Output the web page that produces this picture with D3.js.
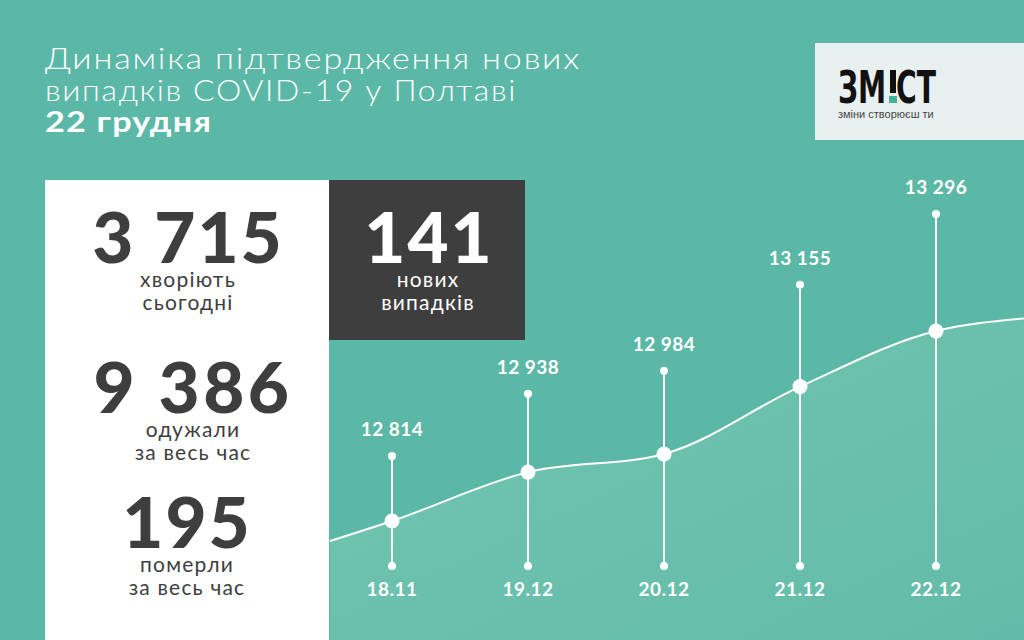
<!DOCTYPE html>
<html>
<head>
<meta charset="utf-8">
<script src="https://cdn.jsdelivr.net/npm/d3@7"></script>
<style>
html,body{margin:0;padding:0;background:#5cb8a6;}
svg{display:block;}
</style>
</head>
<body>
<div id="chart"></div>
<script>
// ---- data ----
const dates = ["18.11", "19.12", "20.12", "21.12", "22.12"];
const totalCases = [12814, 12938, 12984, 13155, 13296];
const titleLines = ["Динаміка підтвердження нових", "випадків COVID-19 у Полтаві"];
const titleDate = "22 грудня";
const statValues = ["3 715", "9 386", "195"];
const statLabels = [["хворіють", "сьогодні"], ["одужали", "за весь час"], ["померли", "за весь час"]];
const newCases = "141";
const newCasesLabel = ["нових", "випадків"];

const W = 1024, H = 640;
const bg = "#5cb8a6", dark = "#3e3e3e";
const fmt = v => d3.format(",")(v).replace(/,/g, " ");
const FONT = "Lato, 'Open Sans', sans-serif";

const svg = d3.select("#chart").append("svg").attr("width", W).attr("height", H);
const defs = svg.append("defs");
const grad = defs.append("linearGradient").attr("id", "areaGrad")
  .attr("x1", "0").attr("y1", "0").attr("x2", "1").attr("y2", "1");
grad.append("stop").attr("offset", "0").attr("stop-color", "#74c6b2");
grad.append("stop").attr("offset", "1").attr("stop-color", "#62bba8");

svg.append("rect").attr("width", W).attr("height", H).attr("fill", bg);

// ---- scales ----
const x = d3.scalePoint().domain(dates).range([392, 936]);
const yStem = d3.scaleLinear().domain([12814, 13296]).range([456, 214]);
const yLine = d3.scaleLinear().domain([12814, 13296]).range([521, 331]);
const baseY = 566;

const pts = dates.map((d, i) => ({ x: x(d), y: yLine(totalCases[i]) }));
// extend curve to panel edge and right border
const left = { x: 330, y: pts[0].y + (pts[0].y - pts[1].y) / (pts[1].x - pts[0].x) * (pts[0].x - 330) * 0.9 };
const right = { x: W, y: pts[4].y - (pts[3].y - pts[4].y) / (pts[4].x - pts[3].x) * (W - pts[4].x) * 0.35 };
const curvePts = [left, ...pts, right];

const area = d3.area().x(d => d.x).y0(H).y1(d => d.y).curve(d3.curveMonotoneX);
const line = d3.line().x(d => d.x).y(d => d.y).curve(d3.curveMonotoneX);

svg.append("path").datum(curvePts).attr("d", area).attr("fill", "url(#areaGrad)");
svg.append("path").datum(curvePts).attr("d", line).attr("fill", "none")
  .attr("stroke", "#fff").attr("stroke-width", 2);

// stems
const g = svg.append("g");
const items = dates.map((d, i) => ({ d, v: totalCases[i] }));
g.selectAll("line.stem").data(items).join("line")
  .attr("x1", d => x(d.d)).attr("x2", d => x(d.d))
  .attr("y1", d => yStem(d.v)).attr("y2", baseY)
  .attr("stroke", "#fff").attr("stroke-width", 2);
g.selectAll("circle.top").data(items).join("circle")
  .attr("cx", d => x(d.d)).attr("cy", d => yStem(d.v)).attr("r", 4).attr("fill", "#fff");
g.selectAll("circle.bot").data(items).join("circle").attr("class", "bot")
  .attr("cx", d => x(d.d)).attr("cy", baseY).attr("r", 4).attr("fill", "#fff");
g.selectAll("circle.mid").data(items).join("circle").attr("class", "mid")
  .attr("cx", d => x(d.d)).attr("cy", d => yLine(d.v)).attr("r", 7.5).attr("fill", "#fff");
g.selectAll("text.val").data(items).join("text")
  .attr("x", d => x(d.d)).attr("y", d => yStem(d.v) - 20)
  .attr("text-anchor", "middle").attr("fill", "#fff")
  .attr("font-family", FONT).attr("font-weight", 700).attr("font-size", 19)
  .attr("letter-spacing", 0.5)
  .text(d => fmt(d.v));
g.selectAll("text.date").data(items).join("text")
  .attr("x", d => x(d.d)).attr("y", 596)
  .attr("text-anchor", "middle").attr("fill", "#fff")
  .attr("font-family", FONT).attr("font-weight", 700).attr("font-size", 19)
  .attr("letter-spacing", 0.5)
  .text(d => d.d);

// ---- title ----
const title = svg.append("g").attr("font-family", FONT).attr("fill", "#fff");
const titleLen = [536, 472];
titleLines.forEach((t, i) => {
  title.append("text").attr("x", 45).attr("y", 69 + i * 32)
    .attr("font-size", 29).attr("font-weight", 300).attr("letter-spacing", 1.5)
    .attr("textLength", titleLen[i]).attr("lengthAdjust", "spacingAndGlyphs").text(t);
});
title.append("text").attr("x", 45).attr("y", 132).attr("font-size", 29)
  .attr("font-weight", 700).attr("letter-spacing", 1)
  .attr("textLength", 167).attr("lengthAdjust", "spacingAndGlyphs").text(titleDate);

// ---- logo ----
const logo = svg.append("g");
logo.append("rect").attr("x", 815).attr("y", 43).attr("width", W - 815).attr("height", 97).attr("fill", "#e9f1f0");
logo.append("text").attr("x", 838).attr("y", 103).attr("font-family", "'Liberation Sans Narrow', 'DejaVu Sans Condensed', sans-serif")
  .attr("font-weight", 700).attr("font-size", 40).attr("fill", "#111")
  .attr("transform", "translate(838,103) scale(1,1.1) translate(-838,-103)")
  .attr("textLength", 98).attr("lengthAdjust", "spacingAndGlyphs").text("ЗМ\u00A0СТ");
logo.append("rect").attr("x", 890).attr("y", 70).attr("width", 6).attr("height", 23).attr("fill", "#111");
logo.append("rect").attr("x", 889).attr("y", 96).attr("width", 8).attr("height", 7).attr("fill", "#3fb398");
logo.append("text").attr("x", 838).attr("y", 118).attr("font-family", "'Liberation Sans Narrow', sans-serif")
  .attr("font-size", 11).attr("fill", "#444").text("зміни створюєш ти");

// ---- left panel ----
svg.append("rect").attr("x", 45).attr("y", 180).attr("width", 284).attr("height", H - 180).attr("fill", "#fff");
svg.append("rect").attr("x", 329).attr("y", 180).attr("width", 196).attr("height", 160).attr("fill", dark);

const statY = [263, 413, 548];
const statX = [188, 193, 187];
statValues.forEach((v, i) => {
  svg.append("text").attr("x", statX[i]).attr("y", statY[i]).attr("text-anchor", "middle")
    .attr("font-family", FONT).attr("font-weight", 900).attr("font-size", 71)
    .attr("letter-spacing", i === 1 ? 3.5 : 2).attr("fill", dark).text(v);
  statLabels[i].forEach((l, j) => {
    svg.append("text").attr("x", statX[i]).attr("y", statY[i] + 24 + j * 23).attr("text-anchor", "middle")
      .attr("font-family", FONT).attr("font-size", 21).attr("letter-spacing", 1.2)
      .attr("fill", "#3e3e3e").text(l);
  });
});
svg.append("text").attr("x", 429).attr("y", 263).attr("text-anchor", "middle")
  .attr("font-family", FONT).attr("font-weight", 900).attr("font-size", 71)
  .attr("letter-spacing", 2).attr("fill", "#fff").text(newCases);
newCasesLabel.forEach((l, j) => {
  svg.append("text").attr("x", 428).attr("y", 287 + j * 23).attr("text-anchor", "middle")
    .attr("font-family", FONT).attr("font-size", 21).attr("letter-spacing", 1.2)
    .attr("fill", "#fff").text(l);
});
</script>
</body>
</html>
